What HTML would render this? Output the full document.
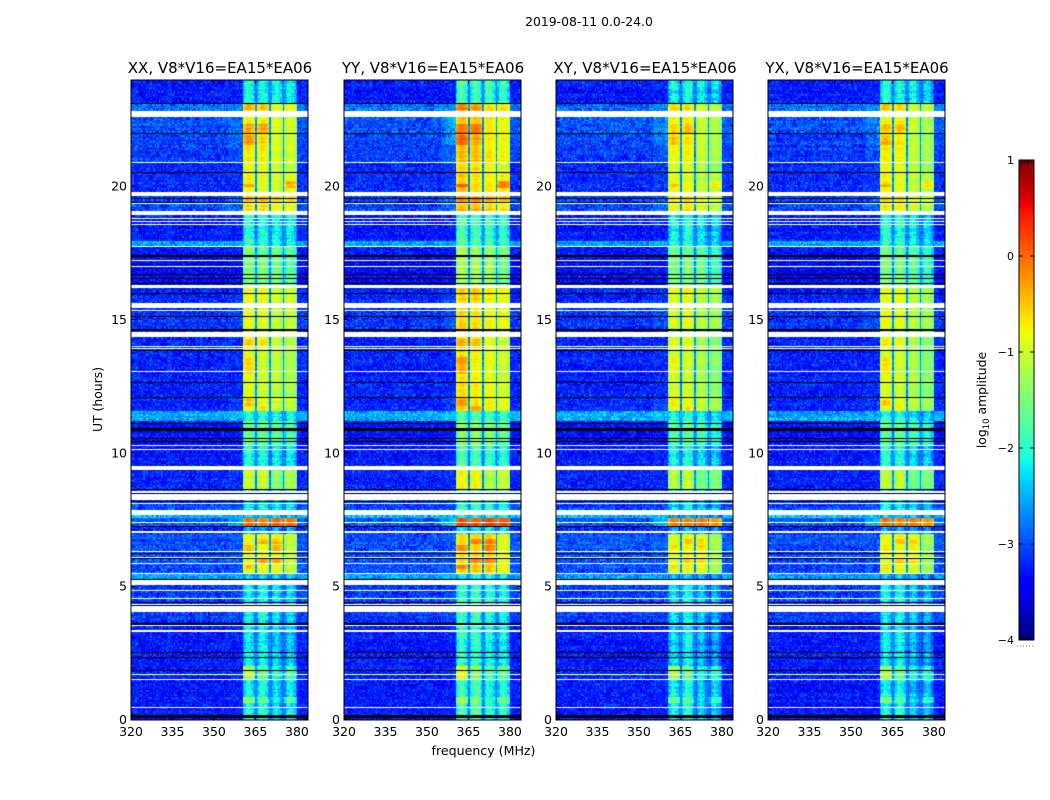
<!DOCTYPE html>
<html lang="en">
<head>
<meta charset="utf-8">
<title>2019-08-11 0.0-24.0</title>
<style>
html,body{margin:0;padding:0;background:#fff}
#figure{position:relative;width:1050px;height:800px;overflow:hidden;background:#fff;font-family:"DejaVu Sans","Liberation Sans",sans-serif}
#figure canvas{position:absolute;display:block}
#overlay{position:absolute;left:0;top:0}
text{font-family:"DejaVu Sans","Liberation Sans",sans-serif;fill:#000}
</style>
</head>
<body>
<div id="figure">
<svg id="overlay" width="1050" height="800" viewBox="0 0 1050 800">
<text x="589" y="26" font-size="12.4" text-anchor="middle">2019-08-11 0.0-24.0</text>
<text x="483.5" y="755" font-size="12.6" text-anchor="middle">frequency (MHz)</text>
<text transform="translate(102,399.5) rotate(-90)" font-size="12.4" text-anchor="middle">UT (hours)</text>
<text transform="translate(986,400) rotate(-90)" font-size="12.4" text-anchor="middle">log<tspan font-size="8.5" dy="3">10</tspan><tspan dy="-3"> amplitude</tspan></text>
</svg>
</div>
<script>
// ---- chart data ----
const panelTitles = ["XX, V8*V16=EA15*EA06", "YY, V8*V16=EA15*EA06", "XY, V8*V16=EA15*EA06", "YX, V8*V16=EA15*EA06"];
const frequencyTicks = [320, 335, 350, 365, 380];
const hourTicks = [0, 5, 10, 15, 20];
const colorbarTicks = [1, 0, -1, -2, -3, -4];
const colorbarEdgeTicks = [0, 1, 2, 3, 4, 5];
const frequencyRange = [320, 384];
const hourRange = [0, 24];
const levelRange = [-4, 1];

// time segments, top of plot downward: hour each begins, and log10 amplitude levels
const segmentStartHours = [24, 23.11, 22.6, 22.0, 21.52, 20.9, 20.53, 19.64, 19.09, 17.95, 17.77, 17.42, 16.3, 15.74, 14.36, 12.11, 11.55, 11.18, 10.29, 9.36, 8.65, 7.67, 7.56, 7.24, 7.0, 5.51, 5.05, 3.66, 2.05, 1.48, 0.84, 0.65];
const backgroundLevels = [-3.3, -2.85, -3.0, -3.05, -3.1, -3.2, -3.2, -3.05, -3.3, -2.6, -3.3, -3.4, -3.25, -3.15, -3.25, -3.25, -2.55, -3.35, -3.3, -3.25, -3.05, -2.5, -2.95, -3.2, -3.0, -2.6, -3.1, -3.3, -3.25, -3.3, -3.3, -3.3];
const shoulderLevels = [-3.25, -2.75, -2.85, -2.9, -3.0, -3.15, -3.15, -2.9, -3.25, -2.55, -3.25, -3.35, -3.15, -3.05, -3.2, -3.1, -2.45, -3.3, -3.25, -3.2, -3.0, -2.5, -2.6, -3.15, -2.95, -2.55, -3.05, -3.25, -3.2, -3.25, -3.25, -3.25];
const shoulderWeights = [0, 0.3, 1, 1, 0.4, 0.2, 0.2, 0.3, 0, 0, 0, 0, 0.1, 0.2, 0, 0.2, 0, 0, 0, 0, 0, 0, 0.8, 0, 0.1, 0, 0, 0, 0, 0, 0, 0];
const subbandLevels = [
  [-2.15, -2.2, -2.2, -2.25], [-0.75, -0.85, -0.95, -0.95], [-0.8, -0.8, -1.0, -1.05], [-0.75, -0.85, -1.0, -1.05],
  [-0.75, -0.8, -1.0, -1.05], [-0.9, -0.95, -1.1, -1.2], [-0.8, -0.95, -1.05, -0.95], [-0.75, -0.75, -0.9, -0.95],
  [-2.1, -2.15, -2.25, -2.25], [-2.0, -2.05, -2.2, -2.2], [-1.5, -1.7, -1.7, -1.8], [-1.5, -1.55, -1.6, -1.8],
  [-0.85, -0.85, -1.05, -1.05], [-0.9, -0.95, -1.1, -1.1], [-0.95, -1.05, -1.15, -1.25], [-0.85, -0.95, -1.05, -1.1],
  [-2.1, -2.1, -2.2, -2.2], [-1.7, -1.7, -1.8, -1.9], [-2.1, -2.15, -2.3, -2.3], [-1.1, -1.1, -1.5, -1.3],
  [-2.2, -2.2, -2.3, -2.3], [-2.5, -2.5, -2.5, -2.5], [-0.05, -0.15, 0.0, -0.05], [-2.6, -2.6, -2.6, -2.6],
  [-0.9, -0.85, -0.85, -1.1], [-2.5, -2.5, -2.5, -2.5], [-2.25, -2.2, -2.4, -2.4], [-2.3, -2.25, -2.5, -2.5],
  [-1.2, -1.7, -2.1, -1.9], [-2.2, -2.15, -2.45, -2.3], [-1.5, -1.8, -2.3, -1.8], [-2.15, -2.1, -2.4, -2.3]
];
// brighter patches inside a sub-band: [lower hour, upper hour, sub-band index, level increase]
const hotspotPatches = [[22.9,23.1,0,0.3],[22.9,23.1,1,0.3],[22.0,22.35,0,0.4],[22.0,22.35,1,0.4],[21.55,21.9,0,0.45],[21.55,21.9,1,0.2],[19.95,20.2,3,0.5],[20.0,20.1,0,0.5],[19.45,19.6,0,0.3],[19.45,19.6,1,0.3],[19.45,19.6,2,0.3],[19.45,19.6,3,0.3],[14.0,14.3,0,0.3],[14.0,14.3,1,0.3],[12.95,13.6,0,0.3],[11.8,12.05,0,0.3],[11.6,11.8,1,0.3],[6.6,6.8,1,0.4],[6.6,6.8,2,0.4],[6.35,6.55,0,0.4],[6.35,6.55,2,0.4],[5.87,6.0,1,0.4],[5.87,6.0,2,0.4],[5.65,5.8,0,0.4]];
const panelHotspotScale = [1, 1.1, 0.6, 0.7];
// per-polarisation offsets for each sub-band, and the shoulder below the band
const panelSubbandOffsets = [[0, 0, 0, 0], [0.25, 0.25, 0.25, 0.2], [-0.1, 0, -0.1, -0.2], [0, 0, -0.1, -0.2]];
const panelShoulderOffsets = [0, 0.4, 0.2, 0.2];
const subbandStartMHz = [360.5, 365.5, 370.5, 375.6];
const subbandEndMHz = [364.9, 369.9, 374.9, 380.0];
const subbandProfile = [-0.2, -0.05, 0.05, 0.1, 0.1, 0.05, 0, -0.08, -0.22];
const gapLevelHigh = -2.7;
const gapLevelLow = -2.75;
const speckle = [0.12,-0.3,0.05,0.33,-0.14,-0.38,0.21,0.02,-0.24,0.28,-0.07,0.16,-0.33,0.09,0.36,-0.19,-0.02,0.24,-0.28,0.14,-0.11,0.31,-0.36,0.07,0.19,-0.22,0.01,0.27,-0.16,-0.31,0.11,0.34,-0.05,-0.26,0.18,0.03,-0.35,0.23,-0.09,0.29,-0.17,0.06,-0.29,0.38,-0.12,0.15,-0.04,-0.23,0.32,0.08,-0.37,0.2,-0.13,0.26,-0.01,-0.27,0.13,0.35,-0.21,0.04,-0.32,0.17,0.3,-0.08,-0.18,0.25,-0.34,0.1,0.37,-0.15,-0.03,0.22,-0.25,0.0,0.16,-0.39,0.28,-0.06,0.12,0.33,-0.2,-0.1,0.19,-0.3,0.07,0.24,-0.16,0.39,-0.24,0.02,-0.12,0.31,-0.35,0.14,-0.04,0.21,-0.28];

// flagged time ranges as [lower hour, upper hour]
const whiteFlagHours = [[22.62,22.83],[20.88,20.92],[19.64,19.80],[19.36,19.40],[18.93,19.09],[18.78,18.82],[18.66,18.70],[18.55,18.59],[17.75,17.79],[17.22,17.26],[16.97,17.01],[16.19,16.30],[15.44,15.62],[15.34,15.38],[14.36,14.54],[13.99,14.03],[13.91,13.95],[13.04,13.08],[10.27,10.31],[10.12,10.16],[9.36,9.51],[8.53,8.57],[8.26,8.46],[8.09,8.13],[7.67,7.87],[7.38,7.42],[7.0,7.07],[6.29,6.33],[6.07,6.11],[5.84,5.88],[5.49,5.53],[5.05,5.25],[4.83,4.87],[4.53,4.57],[4.32,4.36],[4.04,4.26],[3.51,3.55],[3.30,3.38],[1.69,1.73],[1.49,1.53],[0.44,0.48],[0.06,0.10]];
const blackFlagHours = [[23.09,23.13],[21.98,22.02],[20.51,20.55],[19.55,19.59],[19.40,19.44],[17.38,17.44],[16.68,16.72],[16.53,16.57],[16.34,16.40],[15.97,16.01],[15.12,15.16],[14.60,14.66],[13.84,13.88],[12.64,12.68],[12.09,12.13],[11.09,11.13],[10.84,10.95],[10.53,10.57],[10.44,10.48],[8.63,8.67],[8.47,8.51],[8.19,8.23],[7.24,7.28],[6.24,6.28],[6.03,6.07],[5.25,5.29],[4.40,4.44],[4.26,4.30],[3.58,3.62],[2.52,2.56],[2.34,2.38],[1.82,1.89],[0.09,0.17]];

const rowCount = 450;
const channelCount = 128;
const plotLefts = [131, 344, 556, 768];
const plotTop = 80, plotWidth = 177, plotHeight = 640;
const colorbarBox = {x: 1019, y: 160, w: 15, h: 480};

// ---- scales ----
function xScale(f) { return (f - frequencyRange[0]) / (frequencyRange[1] - frequencyRange[0]) * plotWidth; }
function yScale(h) { return (hourRange[1] - h) / (hourRange[1] - hourRange[0]) * plotHeight; }
function lerpStops(t, xs, ys) {
  if (t <= xs[0]) return ys[0];
  for (let i = 1; i < xs.length; i++) {
    if (t <= xs[i]) return ys[i - 1] + (ys[i] - ys[i - 1]) * (t - xs[i - 1]) / (xs[i] - xs[i - 1]);
  }
  return ys[ys.length - 1];
}
function jet(v) {
  const t = Math.max(0, Math.min(1, (v - levelRange[0]) / (levelRange[1] - levelRange[0])));
  const r = lerpStops(t, [0, 0.35, 0.66, 0.89, 1], [0, 0, 1, 1, 0.5]);
  const g = lerpStops(t, [0, 0.125, 0.375, 0.64, 0.91, 1], [0, 0, 1, 1, 0, 0]);
  const b = lerpStops(t, [0, 0.11, 0.34, 0.65, 1], [0.5, 1, 1, 0, 0]);
  return "rgb(" + Math.round(r * 255) + "," + Math.round(g * 255) + "," + Math.round(b * 255) + ")";
}
function segmentIndex(hour) {
  let s = 0;
  for (let i = 0; i < segmentStartHours.length; i++) if (segmentStartHours[i] >= hour) s = i;
  return s;
}
function hotspotDelta(hour, band, panel) {
  let d = 0;
  hotspotPatches.forEach(function (p) {
    if (p[2] === band && hour >= p[0] && hour <= p[1]) d += p[3] * panelHotspotScale[panel];
  });
  return d;
}
function cellLevel(panel, seg, freq, row, ch, hour) {
  const grain = speckle[(ch * ch * 3 + row * row * 7 + ch * row + panel * 29) % speckle.length];
  const stripe = speckle[(row * row * 5 + row * 3 + panel * 11) % speckle.length];
  const bg = backgroundLevels[seg];
  for (let b = 0; b < 4; b++) {
    if (freq >= subbandStartMHz[b] && freq <= subbandEndMHz[b]) {
      const pos = Math.floor((freq - subbandStartMHz[b]) / (subbandEndMHz[b] - subbandStartMHz[b]) * (subbandProfile.length - 0.001));
      const base = subbandLevels[seg][b];
      const low = base < -1.5;
      return base + panelSubbandOffsets[panel][b] + hotspotDelta(hour, b, panel) + subbandProfile[pos] * (low ? 2 : 1) + grain * (low ? 0.65 : 0.25) + stripe * 0.3;
    }
  }
  if (freq > subbandStartMHz[0] && freq < subbandEndMHz[3]) {
    const gap = subbandLevels[seg][0] < -1.5 ? gapLevelLow : gapLevelHigh;
    return Math.max(gap, bg) + grain * 0.5;
  }
  if (freq >= 355 && freq <= subbandStartMHz[0]) {
    return shoulderLevels[seg] + shoulderWeights[seg] * panelShoulderOffsets[panel] * (freq - 355) / 5.5 + grain * 0.8 + stripe * 0.15;
  }
  if (freq > subbandEndMHz[3]) return bg + 0.05 + grain * 0.7;
  return bg + grain * 1.0 + stripe * 0.2;
}

// ---- drawing ----
const figure = document.getElementById("figure");
const svg = document.getElementById("overlay");
const NS = "http://www.w3.org/2000/svg";

function svgLine(x1, y1, x2, y2, w) {
  const l = document.createElementNS(NS, "line");
  l.setAttribute("x1", x1); l.setAttribute("y1", y1);
  l.setAttribute("x2", x2); l.setAttribute("y2", y2);
  l.setAttribute("stroke", "#000");
  l.setAttribute("stroke-width", w || 1);
  return l;
}
function svgText(x, y, str, size, anchor) {
  const t = document.createElementNS(NS, "text");
  t.setAttribute("x", x); t.setAttribute("y", y);
  t.setAttribute("font-size", size);
  t.setAttribute("text-anchor", anchor);
  t.textContent = str;
  return t;
}

panelTitles.forEach(function (title, p) {
  const left = plotLefts[p];
  const cv = document.createElement("canvas");
  
  
  cv.width = plotWidth; cv.height = plotHeight;
  cv.style.left = left + "px"; cv.style.top = plotTop + "px";
  figure.insertBefore(cv, svg);
  const ctx = cv.getContext("2d");

  for (let r = 0; r < rowCount; r++) {
    const hTop = hourRange[1] - (hourRange[1] - hourRange[0]) * r / rowCount;
    const hBot = hourRange[1] - (hourRange[1] - hourRange[0]) * (r + 1) / rowCount;
    const y0 = Math.round(yScale(hTop)), y1 = Math.round(yScale(hBot));
    const hMid = (hTop + hBot) / 2;
    const seg = segmentIndex(hMid);
    for (let c = 0; c < channelCount; c++) {
      const f0 = frequencyRange[0] + (frequencyRange[1] - frequencyRange[0]) * c / channelCount;
      const f1 = frequencyRange[0] + (frequencyRange[1] - frequencyRange[0]) * (c + 1) / channelCount;
      const x0 = Math.round(xScale(f0)), x1 = Math.round(xScale(f1));
      ctx.fillStyle = jet(cellLevel(p, seg, (f0 + f1) / 2, r, c, hMid));
      ctx.fillRect(x0, y0, x1 - x0, y1 - y0);
    }
  }
  function drawFlags(list, color) {
    ctx.fillStyle = color;
    list.forEach(function (f) {
      const y0 = Math.round(yScale(f[1]));
      const y1 = Math.round(yScale(f[0]));
      ctx.fillRect(0, y0, plotWidth, Math.max(1, y1 - y0));
    });
  }
  drawFlags(whiteFlagHours, "#fff");
  drawFlags(blackFlagHours, "#000");

  const frame = document.createElementNS(NS, "rect");
  
  
  frame.setAttribute("x", left); frame.setAttribute("y", plotTop);
  frame.setAttribute("width", plotWidth); frame.setAttribute("height", plotHeight);
  frame.setAttribute("fill", "none"); frame.setAttribute("stroke", "#000");
  svg.appendChild(frame);

  const ttl = svgText(left + plotWidth / 2 + 0.5, 73, title, 15, "middle");
  
  
  svg.appendChild(ttl);

  frequencyTicks.forEach(function (f) {
    const x = Math.round(left + xScale(f)) + 0.5;
    const a = svgLine(x, plotTop, x, plotTop + 4);
    
    
    svg.appendChild(a);
    const b = svgLine(x, plotTop + plotHeight - 4, x, plotTop + plotHeight);
    
    
    svg.appendChild(b);
    const lab = svgText(left + xScale(f), 736, String(f), 12.5, "middle");
    
    
    svg.appendChild(lab);
  });
  hourTicks.forEach(function (h) {
    const y = Math.round(plotTop + yScale(h)) - 0.5;
    const a = svgLine(left, y, left + 4, y);
    
    
    svg.appendChild(a);
    const b = svgLine(left + plotWidth - 4, y, left + plotWidth, y);
    
    
    svg.appendChild(b);
    const lab = svgText(left - 4, plotTop + yScale(h) + 4, String(h), 12.5, "end");
    
    
    svg.appendChild(lab);
  });
});

// ---- colorbar ----
const cb = document.createElement("canvas");


cb.width = colorbarBox.w; cb.height = colorbarBox.h;
cb.style.left = colorbarBox.x + "px"; cb.style.top = colorbarBox.y + "px";
figure.insertBefore(cb, svg);
const cbx = cb.getContext("2d");
function cbScale(v) { return (levelRange[1] - v) / (levelRange[1] - levelRange[0]) * colorbarBox.h; }
for (let y = 0; y < colorbarBox.h; y++) {
  cbx.fillStyle = jet(levelRange[1] - (y + 0.5) / colorbarBox.h * (levelRange[1] - levelRange[0]));
  cbx.fillRect(0, y, colorbarBox.w, 1);
}
const cbFrame = document.createElementNS(NS, "rect");


cbFrame.setAttribute("x", colorbarBox.x); cbFrame.setAttribute("y", colorbarBox.y);
cbFrame.setAttribute("width", colorbarBox.w); cbFrame.setAttribute("height", colorbarBox.h);
cbFrame.setAttribute("fill", "none"); cbFrame.setAttribute("stroke", "#000");
svg.appendChild(cbFrame);
colorbarTicks.forEach(function (v) {
  const y = colorbarBox.y + cbScale(v);
  const a = svgLine(colorbarBox.x, y, colorbarBox.x + 4, y);
  
  
  svg.appendChild(a);
  const b = svgLine(colorbarBox.x + colorbarBox.w - 4, y, colorbarBox.x + colorbarBox.w, y);
  
  
  svg.appendChild(b);
  const lab = svgText(colorbarBox.x - 5, y + 4, String(v).replace("-", "\u2212"), 11, "end");
  
  
  svg.appendChild(lab);
});
colorbarEdgeTicks.forEach(function (k) {
  const x = colorbarBox.x + colorbarBox.w * k / (colorbarEdgeTicks.length - 1);
  const a = svgLine(x, colorbarBox.y, x, colorbarBox.y + 4);
  
  
  svg.appendChild(a);
  const b = svgLine(x, colorbarBox.y + colorbarBox.h - 4, x, colorbarBox.y + colorbarBox.h);
  
  
  svg.appendChild(b);
});
const dots = svgLine(1017, 646, 1035, 646, 1);
dots.setAttribute("stroke", "#777");
dots.setAttribute("stroke-dasharray", "1 2");


svg.appendChild(dots);
</script>
</body>
</html>
